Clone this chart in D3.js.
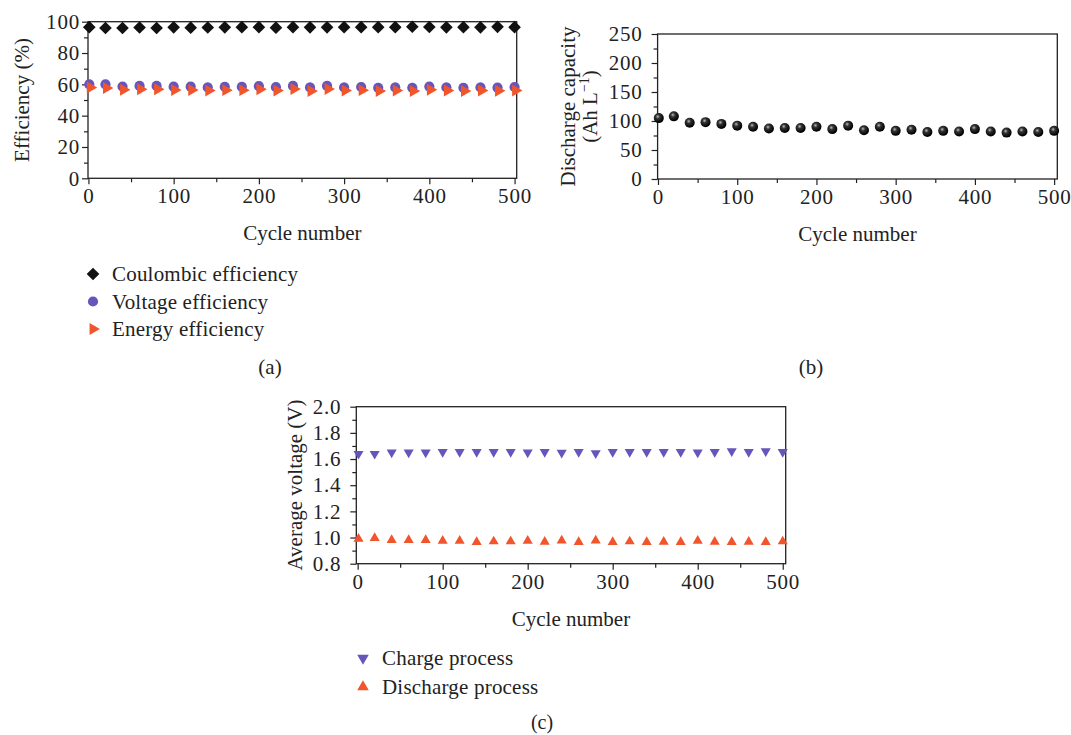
<!DOCTYPE html>
<html>
<head>
<meta charset="utf-8">
<script src="https://cdn.jsdelivr.net/npm/d3@7"></script>
<style>
  body { margin: 0; background: #fff; }
  svg { display: block; font-family: 'Liberation Serif', 'Times New Roman', serif; }
</style>
</head>
<body>
<div id="chart"></div>
<script>
const cycles = [1, 20, 40, 60, 80, 100, 120, 140, 160, 180, 200, 220, 240, 260, 280, 300, 320, 340, 360, 380, 400, 420, 440, 460, 480, 500];

const coulombic = [96.5, 96.0, 96.0, 96.3, 96.0, 96.4, 96.2, 96.3, 96.4, 96.5, 96.5, 96.2, 96.5, 96.4, 96.4, 96.5, 96.5, 96.5, 96.5, 96.8, 96.6, 96.4, 96.5, 96.4, 96.7, 96.5];
const voltageEff = [60.0, 60.0, 58.6, 59.0, 59.0, 58.5, 58.5, 58.0, 58.4, 58.4, 58.8, 58.2, 59.0, 58.0, 59.0, 58.0, 58.3, 57.8, 58.0, 57.8, 58.6, 58.0, 57.8, 58.0, 57.9, 58.3];
const energyEff = [58.0, 57.6, 56.5, 56.8, 56.8, 56.4, 56.4, 56.0, 56.3, 56.3, 56.8, 56.0, 57.0, 55.8, 57.0, 56.0, 56.3, 55.8, 56.0, 55.8, 56.5, 56.0, 55.8, 56.0, 55.9, 56.0];

const capacity = [105, 108, 97, 98, 95, 92, 90, 87, 88, 88, 90, 86, 92, 84, 90, 83, 85, 81, 83, 82, 86, 82, 80, 82, 81, 83];

const chargeV = [1.640, 1.640, 1.650, 1.650, 1.650, 1.655, 1.655, 1.655, 1.655, 1.655, 1.650, 1.655, 1.648, 1.655, 1.645, 1.655, 1.655, 1.655, 1.655, 1.655, 1.650, 1.655, 1.660, 1.655, 1.660, 1.655];
const dischargeV = [0.990, 0.995, 0.980, 0.980, 0.980, 0.975, 0.975, 0.965, 0.970, 0.970, 0.975, 0.968, 0.977, 0.965, 0.977, 0.965, 0.970, 0.965, 0.968, 0.965, 0.975, 0.968, 0.965, 0.968, 0.965, 0.970];

const xTicks = [0, 100, 200, 300, 400, 500];
const effTicks = [0, 20, 40, 60, 80, 100];
const capTicks = [0, 50, 100, 150, 200, 250];
const voltTicks = [0.8, 1.0, 1.2, 1.4, 1.6, 1.8, 2.0];

const PURPLE = '#6655bb', ORANGE = '#f1552c', INK = '#222';

const svg = d3.select('#chart').append('svg').attr('width', 1071).attr('height', 735);

const defs = svg.append('defs');
const grad = defs.append('radialGradient').attr('id', 'ball').attr('cx', '40%').attr('cy', '35%').attr('r', '60%');
grad.append('stop').attr('offset', '0%').attr('stop-color', '#bbb');
grad.append('stop').attr('offset', '35%').attr('stop-color', '#333');
grad.append('stop').attr('offset', '100%').attr('stop-color', '#000');

function panel(o) {
  const x = d3.scaleLinear().domain(o.xd).range([o.l, o.r]);
  const y = d3.scaleLinear().domain(o.yd).range([o.b, o.t]);
  const g = svg.append('g');

  // minor ticks
  g.append('g').attr('transform', `translate(0,${o.b})`)
    .call(d3.axisBottom(x).tickValues([50, 150, 250, 350, 450]).tickSize(4).tickFormat(''))
    .call(a => a.select('.domain').remove());
  g.append('g').attr('transform', `translate(${o.l},0)`)
    .call(d3.axisLeft(y).tickValues(o.minor).tickSize(4).tickFormat(''))
    .call(a => a.select('.domain').remove());

  g.append('g').attr('transform', `translate(0,${o.b})`)
    .call(d3.axisBottom(x).tickValues(xTicks).tickSize(6).tickPadding(4).tickFormat(d3.format('d')))
    .call(a => a.select('.domain').remove());
  g.append('g').attr('transform', `translate(${o.l},0)`)
    .call(d3.axisLeft(y).tickValues(o.yt).tickSize(6).tickPadding(o.pad).tickFormat(o.fmt))
    .call(a => a.select('.domain').remove());

  g.selectAll('.tick line').attr('stroke', INK).attr('stroke-width', 1.2);
  g.selectAll('.tick text').attr('fill', '#222').attr('font-size', 21)
    .attr('font-family', "'Liberation Serif', serif").attr('letter-spacing', 0.8);

  g.append('rect').attr('x', o.l).attr('y', o.t).attr('width', o.r - o.l).attr('height', o.b - o.t)
    .attr('fill', 'none').attr('stroke', INK).attr('stroke-width', 1.3);

  g.append('text').attr('x', (o.l + o.r) / 2).attr('y', o.b + 62)
    .attr('text-anchor', 'middle').attr('font-size', 21).attr('fill', '#222').text('Cycle number');

  return { x, y, g };
}

// (a)
const pa = panel({ l: 88, r: 516.7, t: 21.7, b: 178.3, xd: [-0.5, 502.5], yd: [0, 100],
  yt: effTicks, minor: d3.range(10, 100, 20), pad: 2, fmt: d3.format('d') });
pa.g.append('text').attr('transform', `translate(29,100) rotate(-90)`).attr('text-anchor', 'middle')
  .attr('font-size', 21).attr('fill', '#222').text('Efficiency (%)');

const sq = d3.symbol().type(d3.symbolSquare).size(80);
const circ = d3.symbol().type(d3.symbolCircle).size(82);
const tri = d3.symbol().type(d3.symbolTriangle).size(62);

pa.g.selectAll('.ce').data(cycles).join('path')
  .attr('d', sq).attr('fill', '#111')
  .attr('transform', (d, i) => `translate(${pa.x(d)},${pa.y(coulombic[i])}) rotate(45)`);
pa.g.selectAll('.ve').data(cycles).join('path')
  .attr('d', circ).attr('fill', PURPLE)
  .attr('transform', (d, i) => `translate(${pa.x(d)},${pa.y(voltageEff[i])})`);
pa.g.selectAll('.ee').data(cycles).join('path')
  .attr('d', tri).attr('fill', ORANGE)
  .attr('transform', (d, i) => `translate(${pa.x(d) + 1},${pa.y(energyEff[i])}) rotate(90)`);

const legA = [['Coulombic efficiency', sq, '#111', 45], ['Voltage efficiency', circ, PURPLE, 0], ['Energy efficiency', tri, ORANGE, 90]];
legA.forEach(([lbl, sym, c, rot], i) => {
  const ly = 274 + i * 27.5;
  svg.append('path').attr('d', sym).attr('fill', c).attr('transform', `translate(93,${ly}) rotate(${rot})`);
  svg.append('text').attr('x', 112).attr('y', ly + 7).attr('font-size', 21).attr('letter-spacing', 0.2)
    .attr('fill', '#222').text(lbl);
});
svg.append('text').attr('x', 270).attr('y', 374).attr('text-anchor', 'middle').attr('font-size', 21).attr('fill', '#222').text('(a)');

// (b)
const pb = panel({ l: 657.6, r: 1057.3, t: 34, b: 179, xd: [-0.5, 504], yd: [0, 250],
  yt: capTicks, minor: d3.range(25, 250, 50), pad: 9, fmt: d3.format('d') });
const yl = pb.g.append('text').attr('transform', `translate(575,106.5) rotate(-90)`).attr('text-anchor', 'middle')
  .attr('font-size', 21).attr('fill', '#222');
yl.append('tspan').attr('x', 0).attr('dy', 0).text('Discharge capacity');
yl.append('tspan').attr('x', 0).attr('dy', 22).text('(Ah L');
yl.append('tspan').attr('dy', -8).attr('font-size', 14).text('−1');
yl.append('tspan').attr('dy', 8).text(')');

pb.g.selectAll('.cap').data(cycles).join('circle')
  .attr('cx', d => pb.x(d)).attr('cy', (d, i) => pb.y(capacity[i])).attr('r', 5)
  .attr('fill', 'url(#ball)');
svg.append('text').attr('x', 811).attr('y', 374).attr('text-anchor', 'middle').attr('font-size', 21).attr('fill', '#222').text('(b)');

// (c)
const pc = panel({ l: 356.3, r: 785.7, t: 406.7, b: 563.7, xd: [-1.6, 503.5], yd: [0.8, 2.0],
  yt: voltTicks, minor: d3.range(0.9, 2.0, 0.2), pad: 9, fmt: d3.format('.1f') });
pc.g.append('text').attr('transform', `translate(302,485) rotate(-90)`).attr('text-anchor', 'middle')
  .attr('font-size', 21).attr('fill', '#222').text('Average voltage (V)');

const triC = d3.symbol().type(d3.symbolTriangle).size(44);
pc.g.selectAll('.ch').data(cycles).join('path')
  .attr('d', triC).attr('fill', PURPLE)
  .attr('transform', (d, i) => `translate(${pc.x(d)},${pc.y(chargeV[i])}) rotate(180)`);
pc.g.selectAll('.dc').data(cycles).join('path')
  .attr('d', triC).attr('fill', ORANGE)
  .attr('transform', (d, i) => `translate(${pc.x(d)},${pc.y(dischargeV[i])})`);

[['Charge process', PURPLE, 180], ['Discharge process', ORANGE, 0]].forEach(([lbl, c, rot], i) => {
  const ly = 658 + i * 29;
  svg.append('path').attr('d', d3.symbol().type(d3.symbolTriangle).size(58)).attr('fill', c)
    .attr('transform', `translate(363,${ly}) rotate(${rot})`);
  svg.append('text').attr('x', 382).attr('y', ly + 7).attr('font-size', 21).attr('letter-spacing', 0.2)
    .attr('fill', '#222').text(lbl);
});
svg.append('text').attr('x', 542).attr('y', 729).attr('text-anchor', 'middle').attr('font-size', 20).attr('fill', '#222').text('(c)');
</script>
</body>
</html>
